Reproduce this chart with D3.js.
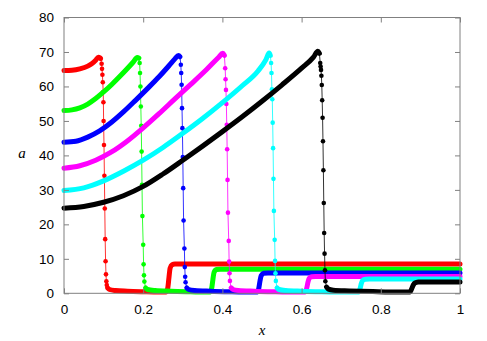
<!DOCTYPE html>
<html>
<head>
<meta charset="utf-8">
<script src="https://cdn.jsdelivr.net/npm/d3@7"></script>
<style>
  body { margin: 0; background: #fff; }
  svg text { font-family: "Liberation Sans", Arial, sans-serif; font-size: 13.5px; }
  .axlab { font-family: "Liberation Serif", "DejaVu Serif", serif; font-style: italic; font-size: 15px; }
</style>
</head>
<body>
<svg id="chart" width="487" height="341"></svg>
<script>
// tick values / labels
var xTicks = [0, 0.2, 0.4, 0.6, 0.8, 1];
var xTickLabels = ["0", "0.2", "0.4", "0.6", "0.8", "1"];
var yTicks = [0, 10, 20, 30, 40, 50, 60, 70, 80];

// each profile = smooth rise, sparse shock points, flat tail
var redRise = [[0,64.6],[0.02,64.7],[0.04,65.1],[0.06,65.9],[0.07,66.6],[0.08,67.6],[0.087,68.5],[0.091,68.3]];
var redShock = [[0.093,68.0],[0.095,66.6],[0.096,65.1],[0.097,63.4],[0.098,61.2],[0.099,58.4],[0.0995,55.4],[0.100,50.0],[0.101,43.0],[0.102,34.1],[0.103,24.6],[0.104,15.7],[0.105,9.3],[0.106,5.5],[0.107,3.5],[0.108,2.4]];
var redTail = [[0.110,1.6],[0.115,1.1],[0.13,0.8],[0.16,0.6],[0.2,0.45],[0.24,0.35],[0.258,0.4],[0.262,1.5],[0.265,4.5],[0.268,7.3],[0.273,8.3],[0.28,8.5],[1,8.5]];

var greenRise = [[0,53.0],[0.02,53.2],[0.04,53.8],[0.06,54.9],[0.08,56.5],[0.1,58.4],[0.12,60.5],[0.14,62.8],[0.16,65.2],[0.175,67.1],[0.185,68.4],[0.189,68.2]];
var greenShock = [[0.191,66.8],[0.192,63.9],[0.193,60.0],[0.194,54.2],[0.195,48.6],[0.196,41.1],[0.197,31.5],[0.198,22.4],[0.200,14.1],[0.201,8.4],[0.202,5.2],[0.203,3.4]];
var greenTail = [[0.206,1.6],[0.211,1.1],[0.23,0.8],[0.27,0.6],[0.32,0.45],[0.36,0.35],[0.369,0.4],[0.373,1.5],[0.376,4.0],[0.379,6.1],[0.385,6.9],[0.395,7.0],[1,7.0]];

var blueRise = [[0,43.8],[0.03,44.1],[0.06,45.3],[0.09,47.1],[0.12,49.6],[0.15,52.6],[0.18,55.9],[0.21,59.3],[0.24,62.8],[0.265,66.0],[0.28,68.0],[0.289,69.0],[0.293,68.6]];
var blueShock = [[0.295,66.3],[0.296,63.9],[0.297,60.5],[0.298,53.7],[0.299,47.9],[0.300,39.5],[0.301,30.5],[0.302,21.1],[0.304,13.0],[0.305,7.6],[0.306,4.8],[0.307,3.2]];
var blueTail = [[0.310,1.6],[0.315,1.1],[0.33,0.8],[0.37,0.6],[0.42,0.45],[0.48,0.35],[0.488,0.4],[0.492,1.5],[0.495,3.6],[0.498,5.1],[0.504,5.8],[0.515,5.9],[1,5.9]];

var magentaRise = [[0,36.3],[0.04,37.0],[0.08,38.6],[0.12,41.0],[0.16,44.2],[0.2,48.0],[0.24,52.1],[0.28,56.4],[0.32,60.6],[0.36,64.9],[0.39,68.4],[0.401,69.6],[0.405,69.0]];
var magentaShock = [[0.407,65.3],[0.408,62.1],[0.409,59.0],[0.410,54.9],[0.411,48.9],[0.412,41.8],[0.413,32.9],[0.414,23.4],[0.416,15.2],[0.417,9.2],[0.418,5.8],[0.419,3.6]];
var magentaTail = [[0.422,1.6],[0.427,1.1],[0.44,0.8],[0.48,0.6],[0.53,0.45],[0.59,0.35],[0.609,0.4],[0.613,1.5],[0.616,3.2],[0.619,4.3],[0.625,4.8],[0.635,4.85],[1,4.85]];

var cyanRise = [[0,29.8],[0.05,30.6],[0.1,32.6],[0.15,35.4],[0.2,38.6],[0.25,42.3],[0.3,46.4],[0.35,50.7],[0.4,55.3],[0.45,60.2],[0.49,64.5],[0.51,67.8],[0.518,69.7],[0.521,69.0]];
var cyanShock = [[0.523,66.8],[0.524,63.9],[0.525,59.2],[0.526,56.3],[0.527,49.5],[0.528,42.1],[0.529,33.2],[0.530,23.9],[0.532,15.5],[0.533,9.4],[0.534,5.8],[0.535,3.6]];
var cyanTail = [[0.538,1.6],[0.543,1.1],[0.56,0.8],[0.6,0.6],[0.65,0.45],[0.72,0.35],[0.744,0.4],[0.748,1.5],[0.751,2.9],[0.754,3.7],[0.761,4.1],[0.772,4.15],[1,4.15]];

var blackRise = [[0,24.7],[0.05,25.2],[0.1,26.4],[0.15,28.3],[0.2,31.0],[0.25,34.6],[0.3,38.6],[0.35,42.7],[0.4,46.9],[0.45,51.2],[0.5,55.7],[0.55,60.4],[0.6,65.3],[0.63,68.5],[0.641,70.2],[0.645,69.6]];
var blackShock = [[0.647,66.8],[0.648,65.8],[0.649,64.8],[0.650,63.1],[0.651,60.4],[0.652,56.0],[0.653,50.9],[0.654,44.1],[0.655,35.7],[0.656,26.2],[0.657,17.5],[0.658,11.5],[0.659,6.7],[0.660,3.5]];
var blackTail = [[0.663,1.8],[0.668,1.2],[0.68,0.9],[0.72,0.7],[0.78,0.5],[0.85,0.35],[0.874,0.4],[0.878,1.3],[0.882,2.4],[0.886,3.0],[0.895,3.25],[0.905,3.3],[1,3.3]];

var seriesColors = ["#ff0000", "#00ff00", "#0000ff", "#ff00ff", "#00ffff", "#000000"];

var profiles = [
  [redRise, redShock, redTail],
  [greenRise, greenShock, greenTail],
  [blueRise, blueShock, blueTail],
  [magentaRise, magentaShock, magentaTail],
  [cyanRise, cyanShock, cyanTail],
  [blackRise, blackShock, blackTail]
];

const mLeft = 64, mRight = 460, mTop = 17.5, mBottom = 293.3;

var x = d3.scaleLinear().domain([0, 1]).range([mLeft, mRight]);
var y = d3.scaleLinear().domain([0, 80]).range([mBottom, mTop]);

var svg = d3.select("#chart");
var line = d3.line().x(function(d) { return x(d[0]); }).y(function(d) { return y(d[1]); });
var smooth = d3.line().curve(d3.curveMonotoneX).x(function(d) { return x(d[0]); }).y(function(d) { return y(d[1]); });

profiles.forEach(function(p, i) {
  var col = seriesColors[i];
  var g = svg.append("g");
  var all = p[0].concat(p[1], p[2]);
  // thin connecting line
  g.append("path").attr("d", line(all))
    .attr("fill", "none").attr("stroke", col).attr("stroke-width", 1).attr("stroke-opacity", 0.8);
  // dense point regions look like a fat band
  [p[0], p[2]].forEach(function(seg) {
    g.append("path").attr("d", smooth(seg))
      .attr("fill", "none").attr("stroke", col).attr("stroke-width", 5)
      .attr("stroke-linejoin", "round").attr("stroke-linecap", "round");
  });
  g.selectAll("circle").data(p[1]).enter().append("circle")
    .attr("cx", function(d) { return x(d[0]); })
    .attr("cy", function(d) { return y(d[1]); })
    .attr("r", 2.3).attr("fill", col);
});

// frame + inward ticks
var gray = "#808080";
svg.append("rect").attr("x", mLeft).attr("y", mTop).attr("width", mRight - mLeft).attr("height", mBottom - mTop)
  .attr("fill", "none").attr("stroke", gray).attr("stroke-width", 1);

svg.append("g").attr("transform", "translate(0," + mBottom + ")")
  .call(d3.axisBottom(x).tickValues(xTicks).tickFormat(function(d, i) { return xTickLabels[i]; }).tickSize(-5).tickPadding(11));
svg.append("g").attr("transform", "translate(0," + mTop + ")")
  .call(d3.axisTop(x).tickValues(xTicks).tickFormat("").tickSize(-5));
svg.append("g").attr("transform", "translate(" + mLeft + ",0)")
  .call(d3.axisLeft(y).tickValues(yTicks).tickSize(-5).tickPadding(10));
svg.append("g").attr("transform", "translate(" + mRight + ",0)")
  .call(d3.axisRight(y).tickValues(yTicks).tickFormat("").tickSize(-5));

svg.selectAll(".domain").remove();
svg.selectAll(".tick line").attr("stroke", gray);
svg.selectAll(".tick text").attr("fill", "#000").style("font-size", "13.5px").style("font-family", "'Liberation Sans', Arial, sans-serif");

svg.append("text").attr("class", "axlab").attr("x", 262).attr("y", 335).attr("text-anchor", "middle").text("x");
svg.append("text").attr("class", "axlab").attr("x", 22).attr("y", 158).attr("text-anchor", "middle").text("a");
</script>
</body>
</html>
